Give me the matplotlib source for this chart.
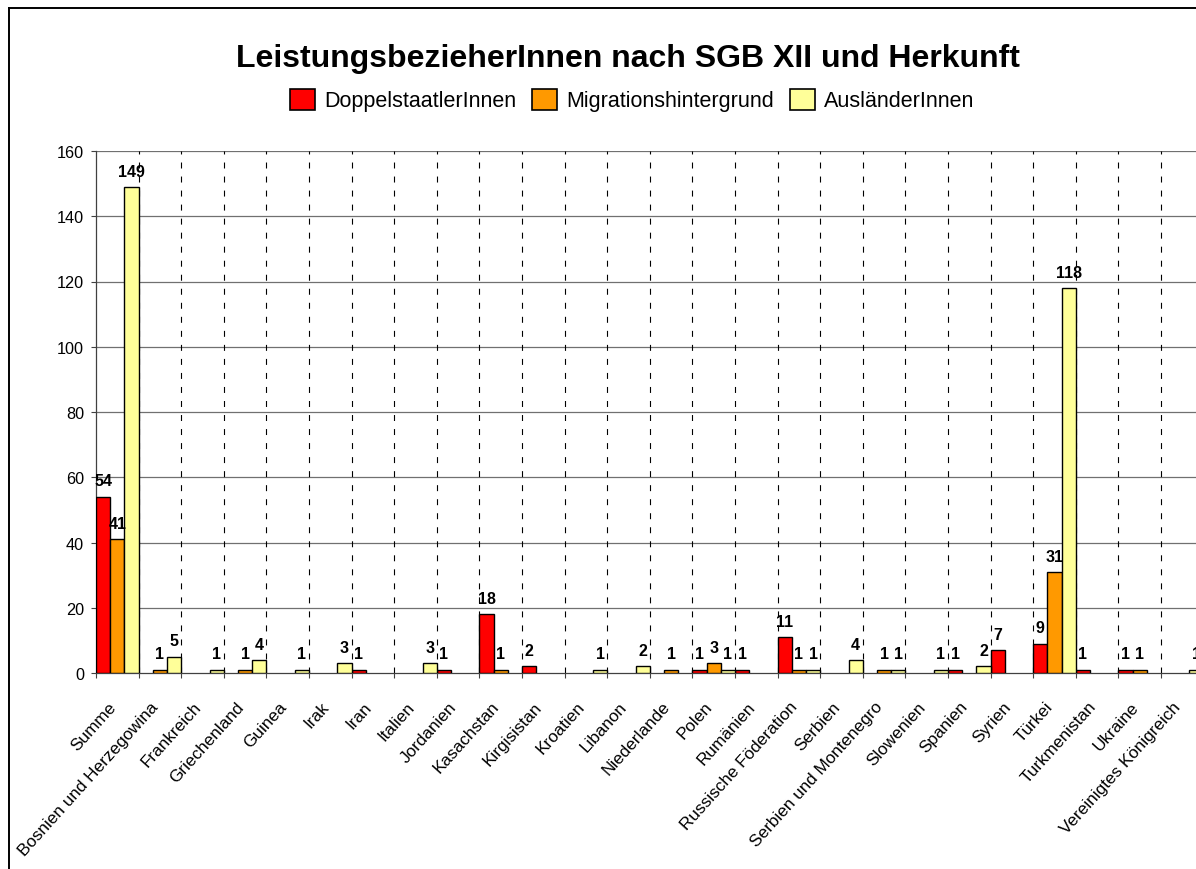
import matplotlib
matplotlib.use("Agg")
import matplotlib.pyplot as plt
import matplotlib.transforms as mtransforms
from matplotlib.patches import Patch
from matplotlib.lines import Line2D
import numpy as np

plt.rcParams['font.family'] = ['Liberation Sans', 'DejaVu Sans']
plt.rcParams['lines.scale_dashes'] = False

title = "LeistungsbezieherInnen nach SGB XII und Herkunft"
categories = ["Summe", "Bosnien und Herzegowina", "Frankreich", "Griechenland", "Guinea",
              "Irak", "Iran", "Italien", "Jordanien", "Kasachstan", "Kirgisistan", "Kroatien",
              "Libanon", "Niederlande", "Polen", "Rumänien", "Russische Föderation", "Serbien",
              "Serbien und Montenegro", "Slowenien", "Spanien", "Syrien", "Türkei",
              "Turkmenistan", "Ukraine", "Vereinigtes Königreich"]
series_names = ["DoppelstaatlerInnen", "Migrationshintergrund", "AusländerInnen"]
doppelstaatler = [54, 0, 0, 0, 0, 0, 1, 0, 1, 18, 2, 0, 0, 0, 1, 1, 11, 0, 0, 0, 1, 7, 9, 1, 1, 0]
migration = [41, 1, 0, 1, 0, 0, 0, 0, 0, 1, 0, 0, 0, 1, 3, 0, 1, 0, 1, 0, 0, 0, 31, 0, 1, 0]
auslaender = [149, 5, 1, 4, 1, 3, 0, 3, 0, 0, 0, 1, 2, 0, 1, 0, 1, 4, 1, 1, 2, 0, 118, 0, 0, 1]
colors = ["#FF0000", "#FF9900", "#FFFF99"]
yticks = [0, 20, 40, 60, 80, 100, 120, 140, 160]

W, H = 1196, 870
fig = plt.figure(figsize=(W / 100, H / 100), dpi=100)
catw = 42.6
n = len(categories)
ax = fig.add_axes([96 / W, 196 / H, n * catw / W, 522 / H])

x = np.arange(n)
bw = 1 / 3
for k, vals in enumerate([doppelstaatler, migration, auslaender]):
    vals = np.array(vals)
    mask = vals > 0
    xs = x[mask] + (k - 1) * bw
    ax.bar(xs, vals[mask], width=bw, color=colors[k], edgecolor="black", linewidth=1.0, zorder=3)
    for xi, v in zip(xs, vals[mask]):
        ax.annotate(str(v), (xi, v), xytext=(0, 6), textcoords="offset points",
                    ha="center", va="bottom", fontsize=11.5, fontweight="bold", zorder=5)

ax.set_xlim(-0.5, n - 0.5)
ax.set_ylim(0, 160)
ax.set_yticks(yticks)
ax.tick_params(axis="y", labelsize=11.7, length=3.6, width=0.8, color="#404040", pad=5)

ax.set_xticks(x)
ax.set_xticklabels(categories, rotation=48, ha="right", va="center", rotation_mode="anchor",
                   fontsize=12.3)
ax.tick_params(axis="x", which="major", length=0, pad=22)
shift = mtransforms.ScaledTranslation(-4 / 100, 0, fig.dpi_scale_trans)
for lab in ax.get_xticklabels():
    lab.set_transform(lab.get_transform() + shift)
ax.set_xticks(np.arange(-0.5, n, 1.0), minor=True)
ax.tick_params(axis="x", which="minor", length=3.6, width=0.8, color="#404040")

# horizontal grid
for yv in yticks[1:]:
    ax.axhline(yv, color="#707070", linewidth=0.9, zorder=1)
# dashed vertical grid
for b in np.arange(0.5, n, 1.0):
    ax.axvline(b, color="black", linewidth=0.8, dashes=(4.3, 5.8), zorder=1)

for s in ["top", "right"]:
    ax.spines[s].set_visible(False)
ax.spines["left"].set_color("#404040")
ax.spines["bottom"].set_color("#404040")
ax.spines["left"].set_linewidth(0.9)
ax.spines["bottom"].set_linewidth(0.9)

fig.text(628 / W, 1 - 59 / H, title, ha="center", va="center", fontsize=23, fontweight="bold")

handles = [Patch(facecolor=c, edgecolor="black", linewidth=1.2) for c in colors]
fig.legend(handles, series_names, loc="center", bbox_to_anchor=(632 / W, 1 - 101 / H), ncol=3,
           frameon=False, fontsize=15.5, handlelength=1.18, handleheight=1.14,
           handletextpad=0.41, columnspacing=0.73, borderaxespad=0, borderpad=0)

# outer chart border (cropped at right and bottom)
fig.add_artist(Line2D([8.5 / W, 8.5 / W], [-0.1, 1 - 8.5 / H], transform=fig.transFigure,
                      color="black", linewidth=1.4))
fig.add_artist(Line2D([8.5 / W, 1.1], [1 - 8.5 / H, 1 - 8.5 / H], transform=fig.transFigure,
                      color="black", linewidth=1.4))

fig.savefig("out.png", dpi=100)
